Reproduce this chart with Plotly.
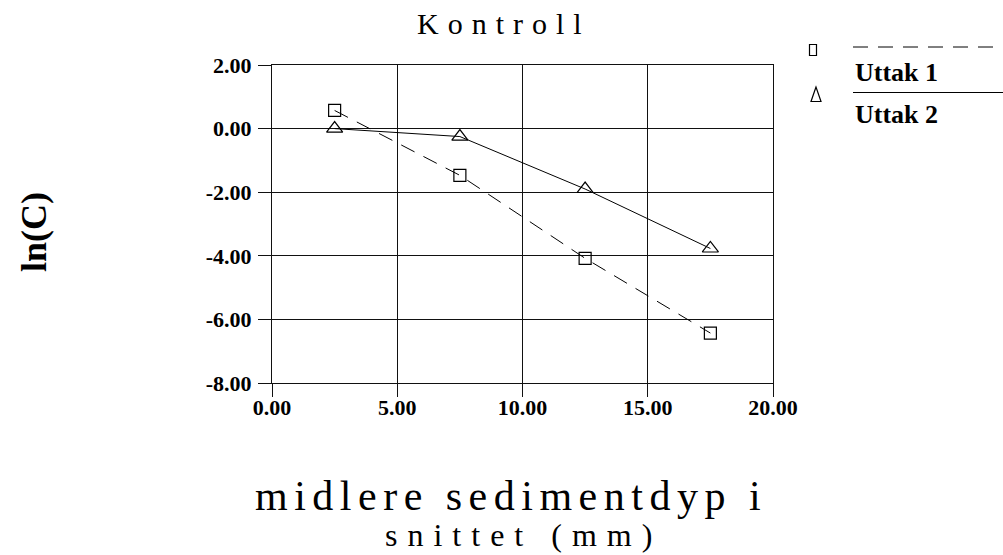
import plotly.graph_objects as go

# ---- data ----
depth = [2.5, 7.5, 12.5, 17.5]
uttak1 = [0.57, -1.47, -4.08, -6.43]
uttak2 = [0.00, -0.25, -1.90, -3.77]
series_names = ["Uttak 1", "Uttak 2"]
x_tickvals = [0, 5, 10, 15, 20]
x_ticktext = ["0.00", "5.00", "10.00", "15.00", "20.00"]
y_tickvals = [2, 0, -2, -4, -6, -8]
y_ticktext = ["2.00", "0.00", "-2.00", "-4.00", "-6.00", "-8.00"]
title_text = "Kontroll"
ylabel = "ln(C)"
xlabel1 = "midlere sedimentdyp i"
xlabel2 = "snittet (mm)"

SERIF = "Liberation Serif, Times New Roman, serif"

W, H = 1003, 555
# plot area in page pixels
L, R, T, B = 272, 773, 65, 383


def px(x):
    return (x - L) / (R - L)


def py(y):
    return (B - y) / (B - T)


fig = go.Figure()
fig.add_trace(go.Scatter(
    x=depth, y=uttak1, mode="lines+markers", name=series_names[0],
    line=dict(color="black", width=1, dash="15px,10px"),
    marker=dict(symbol="square-open", size=12, color="black", line=dict(width=1.2)),
    showlegend=False,
))
fig.add_trace(go.Scatter(
    x=depth, y=uttak2, mode="lines+markers", name=series_names[1],
    line=dict(color="black", width=1),
    marker=dict(symbol="triangle-up-open", size=14, color="black", line=dict(width=1.2)),
    showlegend=False,
))

axis_common = dict(
    showgrid=True, gridcolor="#111", gridwidth=1,
    showline=True, linecolor="#111", linewidth=1, mirror=True,
    ticks="outside", ticklen=13, tickcolor="#111", tickwidth=1,
    zeroline=False,
    tickfont=dict(family=SERIF, size=22, color="black", weight="bold"),
)

fig.update_xaxes(range=[0, 20], tickvals=x_tickvals, ticktext=x_ticktext,
                 ticklabelstandoff=-8, **axis_common)
fig.update_yaxes(range=[-8, 2], tickvals=y_tickvals, ticktext=y_ticktext,
                 ticklabelstandoff=2, **axis_common)

annotations = [
    dict(text=f'<span style="letter-spacing:9px">{title_text}</span>',
         x=px(504), y=py(23), xref="paper", yref="paper",
         xanchor="center", yanchor="middle", showarrow=False,
         font=dict(family=SERIF, size=30, color="black")),
    dict(text=f'<span style="letter-spacing:6.5px">{xlabel1}</span>',
         x=px(511), y=py(496), xref="paper", yref="paper",
         xanchor="center", yanchor="middle", showarrow=False,
         font=dict(family=SERIF, size=42, color="black")),
    dict(text=f'<span style="letter-spacing:10px">{xlabel2}</span>',
         x=px(523), y=py(535), xref="paper", yref="paper",
         xanchor="center", yanchor="middle", showarrow=False,
         font=dict(family=SERIF, size=32, color="black")),
    dict(text=ylabel, textangle=-90,
         x=px(34), y=py(232), xref="paper", yref="paper",
         xanchor="center", yanchor="middle", showarrow=False,
         font=dict(family=SERIF, size=36, color="black", weight="bold")),
    dict(text=series_names[0],
         x=px(853), y=py(72), xref="paper", yref="paper",
         xanchor="left", yanchor="middle", showarrow=False,
         font=dict(family=SERIF, size=26, color="black", weight="bold")),
    dict(text=series_names[1],
         x=px(853), y=py(115), xref="paper", yref="paper",
         xanchor="left", yanchor="middle", showarrow=False,
         font=dict(family=SERIF, size=26, color="black", weight="bold")),
]

shapes = [
    # legend lines
    dict(type="line", xref="paper", yref="paper",
         x0=px(853), x1=px(1003), y0=py(47), y1=py(47),
         line=dict(color="black", width=1, dash="15px,10px")),
    dict(type="line", xref="paper", yref="paper",
         x0=px(853), x1=px(1003), y0=py(92.5), y1=py(92.5),
         line=dict(color="black", width=1)),
    # legend symbols
    dict(type="rect", xref="paper", yref="paper",
         x0=px(809.5), x1=px(816.5), y0=py(44.5), y1=py(55.5),
         line=dict(color="black", width=1.2)),
    dict(type="path", xref="paper", yref="paper",
         path=f"M {px(816):.5f},{py(87):.5f} L {px(811):.5f},{py(101.5):.5f} "
              f"L {px(821):.5f},{py(101.5):.5f} Z",
         line=dict(color="black", width=1.2)),
]

fig.update_layout(
    width=W, height=H,
    margin=dict(l=L, r=W - R, t=T, b=H - B),
    paper_bgcolor="white", plot_bgcolor="white",
    annotations=annotations, shapes=shapes,
    showlegend=False,
)

fig.write_html("out.html",
               config={"displayModeBar": False},
               post_script="document.body.style.margin='0';document.body.style.overflow='hidden';")
